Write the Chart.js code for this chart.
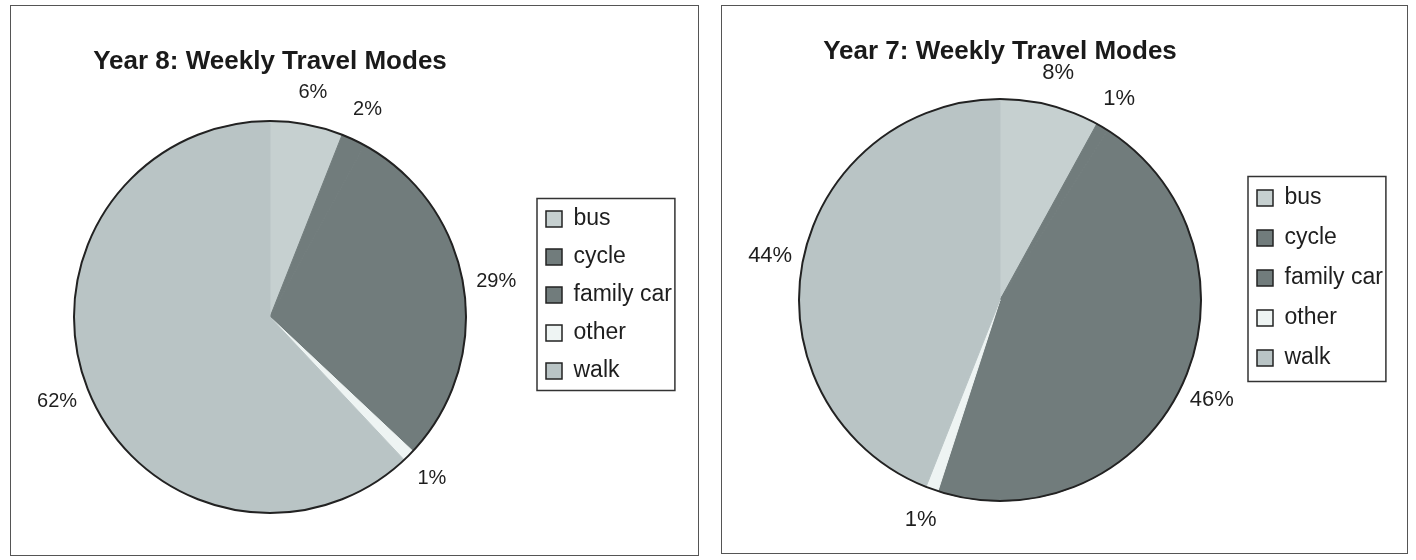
<!DOCTYPE html>
<html><head><meta charset="utf-8">
<script src="https://cdn.jsdelivr.net/npm/chart.js@4.4.1/dist/chart.umd.min.js"></script>
<style>
html,body{margin:0;padding:0;background:#fff;width:1416px;height:560px;overflow:hidden;position:relative}
.panel{position:absolute;border:1px solid #555;box-sizing:border-box}
canvas{position:absolute}
</style></head><body>
<div class="panel" style="left:10px;top:5px;width:689px;height:551px"></div>
<div class="panel" style="left:721px;top:5px;width:687px;height:549px"></div>
<canvas id="c8" width="672" height="496" style="left:9px;top:47px;width:672px;height:496px"></canvas>
<canvas id="c7" width="662" height="512" style="left:730px;top:37px;width:662px;height:512px"></canvas>
<script>
// ---- data ----
const categories = ['bus', 'cycle', 'family car', 'other', 'walk'];
const year8Values = [6, 2, 29, 1, 62];
const year7Values = [8, 1, 46, 1, 44];
const year8Title = 'Year 8: Weekly Travel Modes';
const year7Title = 'Year 7: Weekly Travel Modes';
const sliceColors = ['#c6d0d0', '#717c7c', '#717c7c', '#eef4f3', '#b9c4c5'];

const FONT = '"Liberation Sans", Arial, Helvetica, sans-serif';
Chart.defaults.font.family = FONT;
Chart.defaults.color = '#1e1e1e';

const outlinePlugin = {
  id: 'outline',
  afterDatasetsDraw(chart) {
    const a = chart.getDatasetMeta(0).data[0];
    const ctx = chart.ctx;
    ctx.save();
    ctx.beginPath();
    ctx.arc(a.x, a.y, a.outerRadius, 0, Math.PI * 2);
    ctx.lineWidth = 2;
    ctx.strokeStyle = '#222';
    ctx.stroke();
    ctx.restore();
  }
};

function pctLabels(size, gap) {
  return {
    id: 'pctLabels',
    afterDatasetsDraw(chart) {
      const meta = chart.getDatasetMeta(0);
      const data = chart.data.datasets[0].data;
      const total = data.reduce((s, v) => s + v, 0);
      const ctx = chart.ctx;
      ctx.save();
      ctx.font = size + 'px ' + FONT;
      ctx.fillStyle = '#1e1e1e';
      ctx.textAlign = 'center';
      ctx.textBaseline = 'middle';
      meta.data.forEach((arc, i) => {
        const mid = (arc.startAngle + arc.endAngle) / 2;
        const d = arc.outerRadius + gap;
        ctx.fillText(Math.round(data[i] / total * 100) + '%', arc.x + Math.cos(mid) * d, arc.y + Math.sin(mid) * d);
      });
      ctx.restore();
    }
  };
}

function legendFrame(ml, mr, mt, mb) {
  return {
    id: 'legendFrame',
    afterDraw(chart) {
      const hb = chart.legend.legendHitBoxes;
      let l = Infinity, t = Infinity, r = -Infinity, b = -Infinity;
      hb.forEach(h => {
        l = Math.min(l, h.left); t = Math.min(t, h.top);
        r = Math.max(r, h.left + h.width); b = Math.max(b, h.top + h.height);
      });
      const ctx = chart.ctx;
      ctx.save();
      ctx.strokeStyle = '#333';
      ctx.lineWidth = 1.5;
      ctx.strokeRect(l - ml, t - mt, r - l + ml + mr, b - t + mt + mb);
      ctx.restore();
    }
  };
}

function makePie(id, title, values, radius, labelPad, pctSize, frame, pad) {
  new Chart(document.getElementById(id), {
    type: 'pie',
    data: {
      labels: categories,
      datasets: [{
        data: values,
        backgroundColor: sliceColors,
        borderColor: sliceColors,
        borderWidth: 1,
        radius: radius,
        hoverOffset: 0
      }]
    },
    options: {
      responsive: false,
      animation: false,
      events: [],
      layout: { padding: pad },
      plugins: {
        tooltip: { enabled: false },
        title: {
          display: true,
          text: title,
          fullSize: false,
          color: '#1a1a1a',
          font: { size: 26, weight: 'bold', lineHeight: 30 / 26 },
          padding: { top: 0, bottom: 14 }
        },
        legend: {
          position: 'right',
          maxWidth: frame.maxW,
          labels: {
            font: { size: 23 },
            color: '#1e1e1e',
            boxWidth: 16,
            boxHeight: 16,
            padding: labelPad,
            generateLabels: (chart) => chart.data.labels.map((l, i) => ({
              text: l,
              fillStyle: sliceColors[i],
              strokeStyle: '#222',
              lineWidth: 1.5,
              hidden: false,
              index: i,
              fontColor: '#1e1e1e'
            }))
          }
        }
      }
    },
    plugins: [outlinePlugin, pctLabels(pctSize, 33), legendFrame(frame.l, frame.r, frame.t, frame.b)]
  });
}

makePie('c8', year8Title, year8Values, 196, 15, 20, { maxW: 150, l: 9, r: 3, t: 9, b: 8 }, { left: 0, top: 0, right: 0, bottom: 0 });
makePie('c7', year7Title, year7Values, 201, 17, 22, { maxW: 152, l: 9, r: 3, t: 10, b: 12 }, { left: 30, top: 0, right: 0, bottom: 30 });
</script>
</body></html>
